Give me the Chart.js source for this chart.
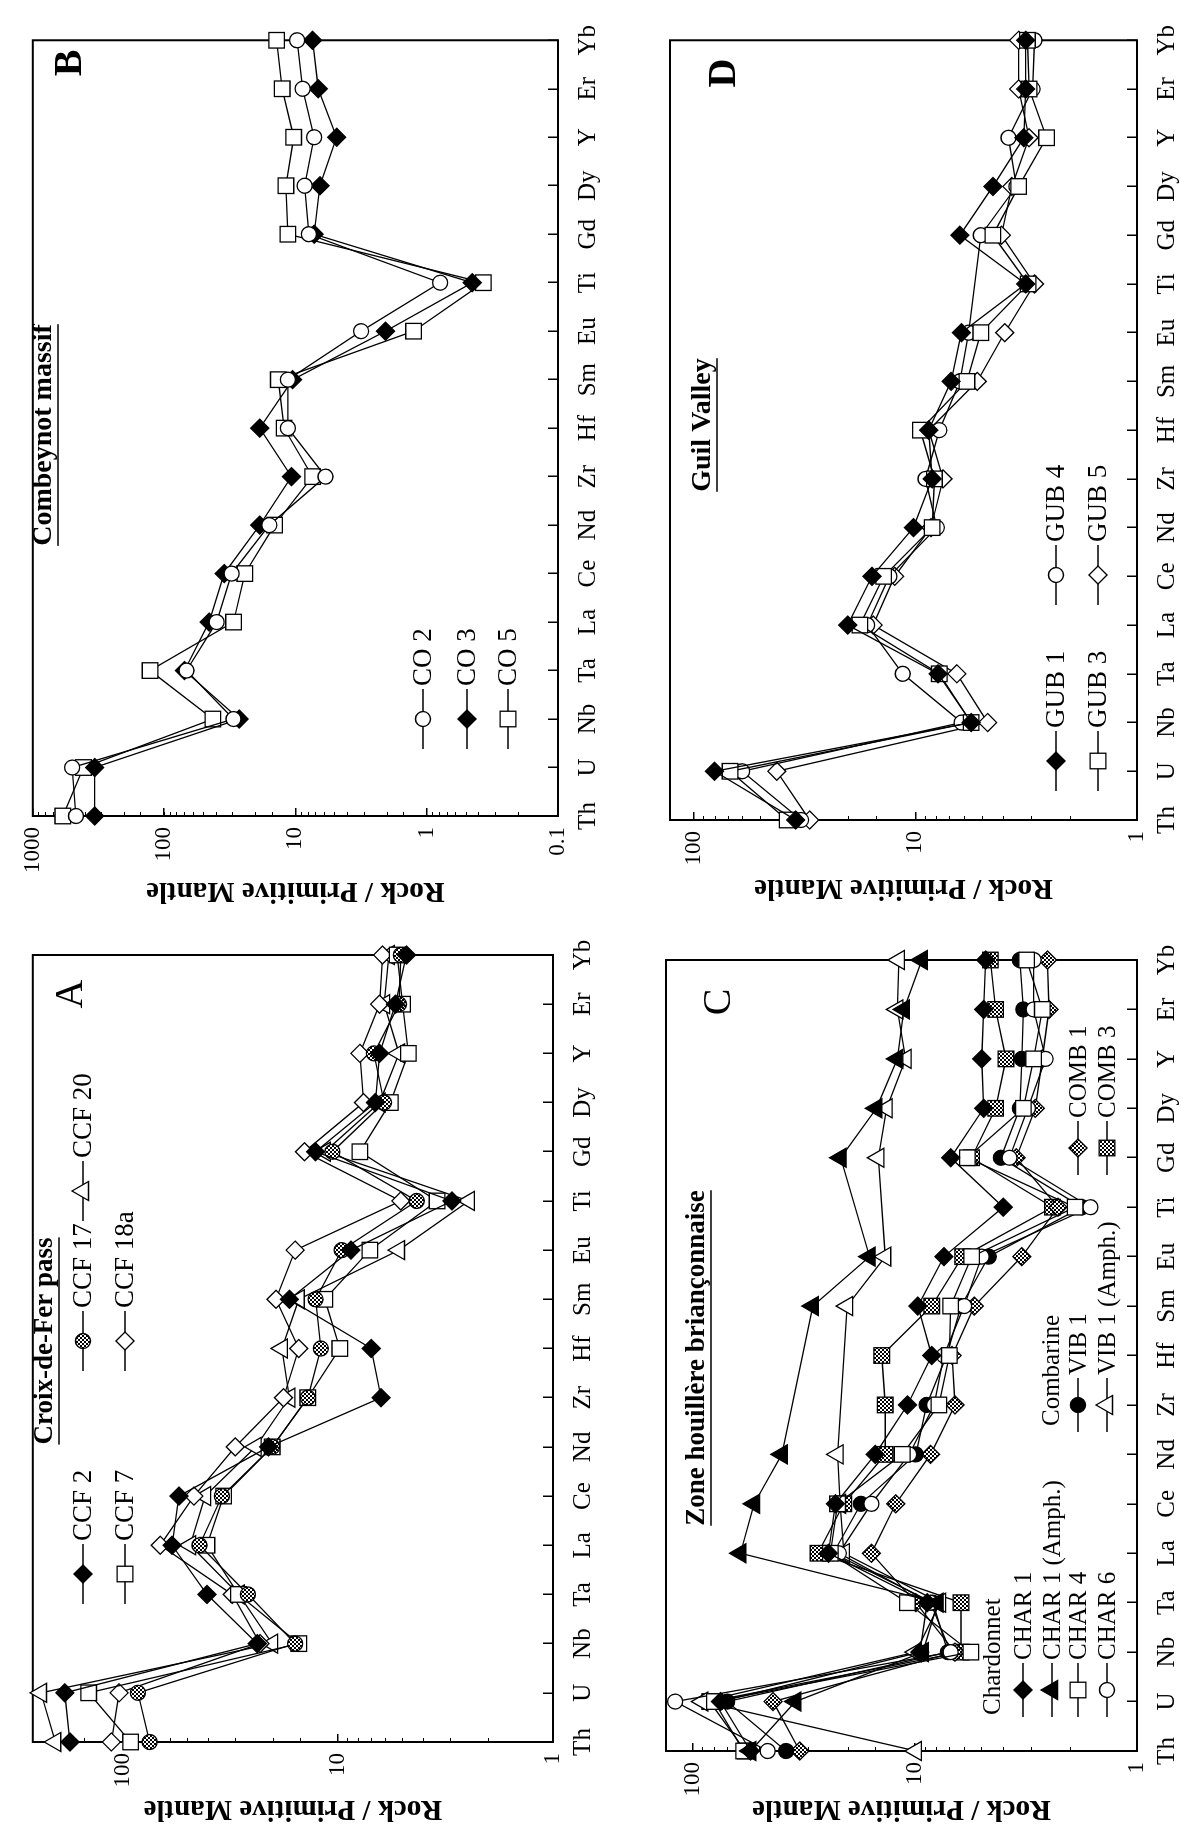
<!DOCTYPE html>
<html lang="en">
<head>
<meta charset="UTF-8" />
<title>Rock / Primitive Mantle</title>
<script src="https://cdn.jsdelivr.net/npm/chart.js"></script>
<style>
  html, body { margin: 0; padding: 0; background: #fff; overflow: hidden; width: 1181px; height: 1827px; }
  /* the figure is drawn upright and then turned a quarter turn, as in the scan */
  #figure { position: absolute; left: 0; top: 0; width: 1827px; height: 1181px;
            transform-origin: 0 0; transform: translateY(1827px) rotate(-90deg); }
  #figure canvas { position: absolute; }
</style>
</head>
<body>
<div id="figure">
  <canvas id="chartA"></canvas>
  <canvas id="chartB"></canvas>
  <canvas id="chartC"></canvas>
  <canvas id="chartD"></canvas>
</div>
<script>
const elements = ['Th', 'U', 'Nb', 'Ta', 'La', 'Ce', 'Nd', 'Zr', 'Hf', 'Sm', 'Eu', 'Ti', 'Gd', 'Dy', 'Y', 'Er', 'Yb'];

// A - Croix-de-Fer pass
const ccf2  = [176, 186, 23.7, 40.6, 59, 54.8, 21, 6.3, 7.0, 16.8, 8.7, 2.95, 12.7, 6.7, 6.4, 5.4, 4.8];
const ccf17 = [75, 85, 15.8, 26.2, 44, 34.6, 20.2, 13.8, 12, 12.7, 9.6, 4.3, 10.6, 6.1, 6.8, 5.2, 5.1];
const ccf7  = [92, 144, 15.2, 29, 40.6, 34, 20.2, 13.8, 9.8, 11.5, 7.1, 3.46, 7.9, 5.7, 4.7, 5.0, 5.3];
const ccf18a = [113, 104, 23, 31, 67, 46.7, 30, 17.9, 15.2, 19.4, 15.8, 5.1, 14.3, 7.6, 7.9, 6.4, 6.2];
const ccf20 = [206, 240, 20.2, 28.9, 48.6, 41.4, 24.1, 16.8, 18.2, 15.2, 5.2, 2.46, 11.5, 6.4, 5.2, 6.1, 5.8];

// B - Combeynot massif
const co2 = [469, 501, 29.6, 67.5, 39.8, 30.6, 15.8, 5.9, 11.4, 11.4, 3.16, 0.79, 7.9, 8.5, 7.2, 8.8, 9.7];
const co3 = [338, 338, 26.8, 70, 45.4, 34.9, 18.7, 10.7, 18.7, 10.5, 2.06, 0.45, 7.2, 6.5, 4.85, 6.7, 7.4];
const co5 = [591, 411, 42.5, 128, 29.6, 24.3, 14.4, 7.4, 12.2, 13.5, 1.26, 0.37, 11.4, 11.8, 10.3, 12.6, 13.9];

// C - Zone houillere brianconnaise
const char1  = [55, 75, 9.5, 8.8, 24.5, 22.8, 15.1, 10.8, 8.4, 9.7, 7.4, 4.0, 6.9, 4.9, 5.0, 4.9, 4.8];
const char1a = [55, 34.5, 9.2, 7.9, 61, 53, 39.7, null, null, 28.8, 16, null, 21.6, 14.9, 12, 11.2, 9.3];
const char4  = [59, 80, 5.6, 10.8, 24, 22.3, 11.4, 7.8, 7.0, 6.9, 5.55, 1.9, 5.8, 3.25, 2.92, 2.67, 3.14];
const char6  = [46, 120, 6.9, 8.5, 22, 15.7, 10.6, 8.2, 7.4, 6.0, 5.0, 1.62, 3.75, 3.1, 2.58, 2.92, 2.92];
const vib1   = [38, 70, 7.1, 8.3, 23.3, 17.5, 9.9, 8.85, 7.2, 6.2, 4.65, 1.77, 4.1, 3.37, 3.3, 3.25, 3.37];
const vib1a  = [9.9, 90.5, 9.9, 7.7, 20.9, 21.7, 22.3, null, null, 20.2, 13.6, null, 14.6, 13.4, 11, 12, 11.8];
const comb1  = [33, 43.5, 6.6, 9.9, 15.7, 12.2, 8.5, 6.6, 6.8, 5.4, 3.3, 2.27, 3.5, 2.87, 2.67, 2.49, 2.53];
const comb3  = [58, 84, 6.2, 6.2, 27.3, 20.9, 13.6, 13.6, 14.1, 8.4, 6.1, 2.4, 5.56, 4.33, 3.89, 4.33, 4.57];

// D - Guil Valley
const gub1 = [34.7, 80.6, 5.6, 7.9, 20.2, 15.7, 10.2, 8.4, 8.7, 6.9, 6.2, 3.18, 6.3, 4.47, 3.24, 3.18, 3.18];
const gub3 = [37.9, 68.6, 5.6, 7.8, 17.8, 13.9, 8.4, 8.2, 9.5, 5.85, 5.07, 3.1, 4.47, 3.42, 2.56, 3.07, 3.12];
const gub4 = [32.8, 60.5, 6.18, 11.4, 16.5, 13.1, 8.0, 9.0, 7.8, 6.3, 5.75, null, 5.07, 3.5, 3.8, 2.96, 2.9];
const gub5 = [30, 42.2, 4.72, 6.5, 15.5, 12.4, 8.5, 7.5, 8.7, 5.26, 3.95, 2.9, 4.09, 3.67, 3.07, 3.42, 3.42];

const SERIF = "'Liberation Serif', 'DejaVu Serif', serif";

function makeShade() {
  const c = document.createElement('canvas');
  c.width = 4; c.height = 4;
  const g = c.getContext('2d');
  g.fillStyle = '#fff'; g.fillRect(0, 0, 4, 4);
  g.fillStyle = '#000'; g.fillRect(0, 0, 2, 2); g.fillRect(2, 2, 2, 2);
  return g.createPattern(c, 'repeat');
}
const shade = makeShade();

const markers = {
  filledDiamond:  { style: 'rectRot',  r: 9,   fill: '#000' },
  openDiamond:    { style: 'rectRot',  r: 9,   fill: '#fff' },
  shadedDiamond:  { style: 'rectRot',  r: 9,   fill: shade },
  openSquare:     { style: 'rect',     r: 11,  fill: '#fff' },
  shadedSquare:   { style: 'rect',     r: 11,  fill: shade },
  openCircle:     { style: 'circle',   r: 7.5, fill: '#fff' },
  filledCircle:   { style: 'circle',   r: 7.5, fill: '#000' },
  shadedCircle:   { style: 'circle',   r: 7.5, fill: shade },
  openTriangle:   { style: 'triangle', r: 11,  fill: '#fff' },
  filledTriangle: { style: 'triangle', r: 11,  fill: '#000' }
};

// positions in the upright figure (1827 x 1181)
const panels = [
  {
    id: 'chartA', rect: { x: -40, y: 0, w: 975, h: 615 }, box: { l: 85, t: 14, r: 872, b: 553 },
    min: 1, max: 262, titleX: 19,
    series: [['CCF 2', ccf2, 'filledDiamond'], ['CCF 17', ccf17, 'shadedCircle'], ['CCF 7', ccf7, 'openSquare'],
             ['CCF 18a', ccf18a, 'openDiamond'], ['CCF 20', ccf20, 'openTriangle']],
    letter: { text: 'A', x: 833, y: 71, bold: false },
    heading: { text: 'Croix-de-Fer pass', x: 486, y: 45, size: 27 },
    legendFont: 27, legendArm: 30,
    legend: [[0, 253, 83], [1, 486, 83], [4, 636, 83], [2, 253, 125], [3, 486, 125]],
    notes: []
  },
  {
    id: 'chartB', rect: { x: 880, y: 0, w: 947, h: 615 }, box: { l: 1011, t: 14, r: 1796, b: 558 },
    min: 0.1, max: 1000, titleX: 937,
    series: [['CO 2', co2, 'openCircle'], ['CO 3', co3, 'filledDiamond'], ['CO 5', co5, 'openSquare']],
    letter: { text: 'B', x: 1764, y: 71, bold: true },
    heading: { text: 'Combeynot massif', x: 1392, y: 44, size: 28 },
    legendFont: 27, legendArm: 30,
    legend: [[0, 1108, 423], [1, 1108, 467], [2, 1108, 508]],
    notes: []
  },
  {
    id: 'chartC', rect: { x: -40, y: 610, w: 975, h: 571 }, box: { l: 76, t: 666, r: 867, b: 1137 },
    min: 1, max: 132, titleX: 19,
    series: [['CHAR 1', char1, 'filledDiamond'], ['CHAR 1 (Amph.)', char1a, 'filledTriangle'],
             ['CHAR 4', char4, 'openSquare'], ['CHAR 6', char6, 'openCircle'],
             ['VIB 1', vib1, 'filledCircle'], ['VIB 1 (Amph.)', vib1a, 'openTriangle'],
             ['COMB 1', comb1, 'shadedDiamond'], ['COMB 3', comb3, 'shadedSquare']],
    letter: { text: 'C', x: 825, y: 719, bold: false },
    heading: { text: 'Zone houillère briançonnaise', x: 469, y: 697, size: 27 },
    legendFont: 25, legendArm: 27,
    legend: [[0, 137, 1023], [1, 137, 1052], [2, 137, 1078], [3, 137, 1107],
             [4, 422, 1078], [5, 422, 1107], [6, 679, 1078], [7, 679, 1107]],
    notes: [['Chardonnet', 112, 993], ['Combarine', 401, 1052]]
  },
  {
    id: 'chartD', rect: { x: 880, y: 610, w: 947, h: 571 }, box: { l: 1007, t: 670, r: 1794, b: 1137 },
    min: 1, max: 128, titleX: 940,
    series: [['GUB 1', gub1, 'filledDiamond'], ['GUB 3', gub3, 'openSquare'],
             ['GUB 4', gub4, 'openCircle'], ['GUB 5', gub5, 'openDiamond']],
    letter: { text: 'D', x: 1754, y: 725, bold: true },
    heading: { text: 'Guil Valley', x: 1402, y: 703, size: 28 },
    legendFont: 27, legendArm: 30,
    legend: [[0, 1066, 1056], [2, 1252, 1056], [1, 1066, 1098], [3, 1252, 1098]],
    notes: []
  }
];

const isDecade = (v) => {
  const l = Math.log10(v);
  return Math.abs(l - Math.round(l)) < 1e-6;
};

function drawMarker(ctx, m, x, y) {
  const opts = { pointStyle: m.style, radius: m.r, rotation: 0, borderWidth: 1.3 };
  ctx.fillStyle = m.fill;
  ctx.strokeStyle = '#000';
  ctx.lineWidth = 1.3;
  if (Chart.helpers && Chart.helpers.drawPoint) {
    Chart.helpers.drawPoint(ctx, opts, x, y);
  } else {
    ctx.beginPath();
    ctx.arc(x, y, m.r, 0, Math.PI * 2);
    ctx.fill(); ctx.stroke();
  }
}

const framePlugin = {
  id: 'frame',
  beforeDatasetsDraw(chart) {
    const { ctx, chartArea: a } = chart;
    ctx.save();
    ctx.strokeStyle = '#000';
    ctx.lineWidth = 2;
    ctx.strokeRect(a.left, a.top, a.right - a.left, a.bottom - a.top);
    ctx.restore();
  }
};

function decorPlugin(p) {
  return {
    id: 'decor',
    afterDraw(chart) {
      const ctx = chart.ctx;
      ctx.save();
      ctx.translate(-p.rect.x, -p.rect.y);
      ctx.fillStyle = '#000';
      ctx.textBaseline = 'middle';

      // panel letter
      ctx.textAlign = 'center';
      ctx.font = (p.letter.bold ? 'bold ' : '') + '40px ' + SERIF;
      ctx.fillText(p.letter.text, p.letter.x, p.letter.y);

      // underlined locality name
      ctx.font = 'bold ' + p.heading.size + 'px ' + SERIF;
      ctx.fillText(p.heading.text, p.heading.x, p.heading.y);
      const hw = ctx.measureText(p.heading.text).width;
      ctx.lineWidth = 1.5;
      ctx.strokeStyle = '#000';
      ctx.beginPath();
      ctx.moveTo(p.heading.x - hw / 2, p.heading.y + 14);
      ctx.lineTo(p.heading.x + hw / 2, p.heading.y + 14);
      ctx.stroke();

      // legend
      const arm = p.legendArm;
      ctx.textAlign = 'left';
      ctx.font = p.legendFont + 'px ' + SERIF;
      p.notes.forEach(([text, x, y]) => ctx.fillText(text, x, y));
      p.legend.forEach(([idx, x, y]) => {
        const [name, , mk] = p.series[idx];
        ctx.strokeStyle = '#000';
        ctx.lineWidth = 1.3;
        ctx.beginPath();
        ctx.moveTo(x - arm, y);
        ctx.lineTo(x + arm, y);
        ctx.stroke();
        drawMarker(ctx, markers[mk], x, y);
        ctx.fillStyle = '#000';
        ctx.fillText(name, x + arm + 3, y + 1);
      });
      ctx.restore();
    }
  };
}

function buildPanel(p) {
  const canvas = document.getElementById(p.id);
  canvas.width = p.rect.w;
  canvas.height = p.rect.h;
  canvas.style.left = p.rect.x + 'px';
  canvas.style.top = p.rect.y + 'px';
  canvas.style.width = p.rect.w + 'px';
  canvas.style.height = p.rect.h + 'px';

  const datasets = p.series.map(([label, data, mk]) => ({
    label,
    data,
    borderColor: '#000',
    borderWidth: 1.3,
    pointStyle: markers[mk].style,
    pointRadius: markers[mk].r,
    pointBackgroundColor: markers[mk].fill,
    pointBorderColor: '#000',
    pointBorderWidth: 1.3,
    spanGaps: true,
    tension: 0,
    fill: false,
    clip: false
  }));

  // centre of the rotated axis title, measured from the canvas edge
  const titleOffset = p.titleX - p.rect.x - 14.5;

  new Chart(canvas, {
    type: 'line',
    data: { labels: elements, datasets },
    options: {
      responsive: false,
      animation: false,
      devicePixelRatio: 1,
      layout: { padding: { left: 0, top: p.box.t - p.rect.y, right: p.rect.x + p.rect.w - p.box.r, bottom: 0 } },
      plugins: { legend: { display: false }, tooltip: { enabled: false } },
      scales: {
        x: {
          type: 'category',
          offset: false,
          grid: { drawOnChartArea: false, tickLength: -10, color: '#000', lineWidth: 1.5 },
          border: { display: false },
          ticks: { color: '#000', font: { family: SERIF, size: 25 }, autoSkip: false, maxRotation: 0, minRotation: 0, padding: 25 },
          afterFit: (s) => { s.height = p.rect.y + p.rect.h - p.box.b; }
        },
        y: {
          type: 'logarithmic',
          position: 'left',
          weight: 1,
          min: p.min,
          max: p.max,
          afterBuildTicks: (s) => { s.ticks = s.ticks.filter(t => isDecade(t.value)); },
          grid: { drawOnChartArea: false, tickLength: -8, color: '#000', lineWidth: 1.5 },
          border: { display: false },
          ticks: { color: '#000', font: { family: SERIF, size: 23 }, padding: 19,
                   callback: (v) => isDecade(v) ? String(v) : '' },
          title: { display: true, text: 'Rock / Primitive Mantle', color: '#000',
                   font: { family: SERIF, size: 29, weight: 'bold', lineHeight: 1 },
                   padding: { top: titleOffset, bottom: 0 } },
          afterFit: (s) => { s.width = p.box.l - p.rect.x; }
        },
        y2: {
          type: 'logarithmic',
          position: 'left',
          weight: 0,
          min: p.min,
          max: p.max,
          grid: { drawOnChartArea: false, tickLength: -4, color: '#000', lineWidth: 1 },
          border: { display: false },
          ticks: { display: false },
          afterFit: (s) => { s.width = 0; }
        }
      }
    },
    plugins: [framePlugin, decorPlugin(p)]
  });
}

panels.forEach(buildPanel);
</script>
</body>
</html>
